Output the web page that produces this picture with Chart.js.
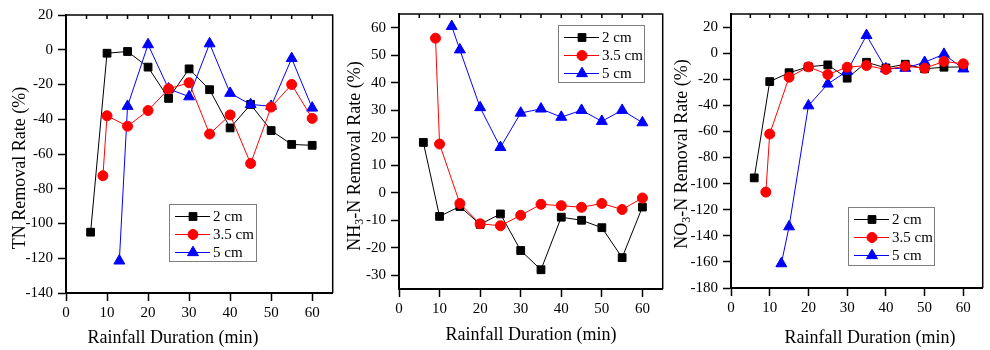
<!DOCTYPE html>
<html>
<head>
<meta charset="utf-8">
<script src="https://cdn.jsdelivr.net/npm/chart.js@4.4.0/dist/chart.umd.min.js"></script>
<style>
  html, body { margin: 0; padding: 0; background: #fff; }
  #wrap { position: relative; width: 990px; height: 350px; overflow: hidden; }
  canvas { position: absolute; top: 0; }
</style>
</head>
<body>
<div id="wrap">
  <canvas id="tn" width="340" height="350" style="left:0"></canvas>
  <canvas id="nh" width="330" height="350" style="left:340px"></canvas>
  <canvas id="no" width="320" height="350" style="left:670px"></canvas>
</div>
<script>
// sampling times (min) for each buffer depth
const depthLabels = ['2 cm', '3.5 cm', '5 cm'];
const time2 = [6, 10, 15, 20, 25, 30, 35, 40, 45, 50, 55, 60];
const time35 = [9, 10, 15, 20, 25, 30, 35, 40, 45, 50, 55, 60];
const time5 = [13, 15, 20, 25, 30, 35, 40, 45, 50, 55, 60];
const xTicks = [0, 10, 20, 30, 40, 50, 60];

// TN removal rate (%)
const tn2 = [-105, -2, -1, -10, -28, -11, -23, -45, -31.5, -46.5, -54.5, -55];
const tn35 = [-72.5, -38, -44, -35, -22.5, -19, -48.5, -37.5, -65.5, -33, -20, -39.5];
const tn5 = [-121.5, -32.5, 3, -22.5, -27, 3.5, -25, -31.5, -32.5, -5, -33.5];
const tnTicks = [-140, -120, -100, -80, -60, -40, -20, 0, 20];

// NH3-N removal rate (%)
const nh2 = [18.3, -8.6, -5, -11.5, -7.7, -21, -28, -8.9, -10, -12.7, -23.6, -5.2];
const nh35 = [56.2, 17.7, -3.9, -11.3, -12, -8.2, -4.2, -4.7, -5.3, -3.9, -6.1, -1.9];
const nh5 = [60.5, 52, 31, 16.5, 29, 30.5, 27.5, 30, 26, 30, 25.5];
const nhTicks = [-30, -20, -10, 0, 10, 20, 30, 40, 50, 60];

// NO3-N removal rate (%)
const no2 = [-95.6, -21.8, -15, -10.5, -9, -19.2, -7, -11.3, -8.5, -12, -10.8, -10.5];
const no35 = [-106.5, -62, -18.5, -10.5, -16.4, -10.8, -9.5, -12.5, -10, -11.5, -6.4, -8.2];
const no5 = [-161.3, -133, -40.3, -23.6, -13.8, 13.6, -12, -11.5, -7, -0.8, -12];
const noTicks = [-180, -160, -140, -120, -100, -80, -60, -40, -20, 0, 20];

Chart.defaults.font.family = '"Liberation Serif", "Times New Roman", serif';
Chart.defaults.color = '#000';

const pairs = (xs, ys) => xs.map((x, i) => ({ x: x, y: ys[i] }));

// box on top/right with small inward ticks along the top
const framePlugin = {
  id: 'frame',
  afterDraw(chart) {
    const { ctx, chartArea: a, scales } = chart;
    const x = scales.x;
    ctx.save();
    ctx.strokeStyle = '#000';
    ctx.lineWidth = 1.5;
    ctx.beginPath();
    ctx.moveTo(a.left, a.top);
    ctx.lineTo(a.right, a.top);
    ctx.lineTo(a.right, a.bottom);
    for (let v = 0; v < x.max; v += 5) {
      const px = x.getPixelForValue(v);
      ctx.moveTo(px, a.top);
      ctx.lineTo(px, a.top + 4);
    }
    ctx.stroke();
    ctx.restore();
  }
};

// framed legend inside the plot, like the Origin one
const boxLegend = {
  id: 'boxLegend',
  afterDraw(chart, args, opts) {
    const { ctx } = chart;
    const b = opts.box;
    ctx.save();
    ctx.fillStyle = '#fff';
    ctx.fillRect(b.x, b.y, b.w, b.h);
    ctx.strokeStyle = '#7f7f7f';
    ctx.lineWidth = 1;
    ctx.strokeRect(b.x + 0.5, b.y + 0.5, b.w, b.h);
    chart.data.datasets.forEach((ds, i) => {
      const y = b.y + 12.5 + i * 18;
      ctx.strokeStyle = ds.borderColor;
      ctx.lineWidth = 1;
      ctx.beginPath();
      ctx.moveTo(b.x + 6, y);
      ctx.lineTo(b.x + 41, y);
      ctx.stroke();
      ctx.fillStyle = ds.pointBackgroundColor;
      ctx.strokeStyle = ds.borderColor;
      Chart.helpers.drawPoint(ctx, {
        pointStyle: ds.pointStyle, radius: ds.pointRadius, rotation: 0, borderWidth: 1
      }, b.x + 24, y);
      ctx.fillStyle = '#000';
      ctx.font = '15px "Liberation Serif"';
      ctx.textAlign = 'left';
      ctx.textBaseline = 'middle';
      ctx.fillText(ds.label, b.x + 44, y + 1);
    });
    ctx.restore();
  }
};

// axis titles, y title may carry a subscript part
const axisTitles = {
  id: 'axisTitles',
  afterDraw(chart, args, opts) {
    const { ctx } = chart;
    ctx.save();
    ctx.fillStyle = '#000';
    ctx.textBaseline = 'middle';
    ctx.font = '18px "Liberation Serif"';
    ctx.textAlign = 'center';
    ctx.fillText(opts.xText, opts.xPos[0], opts.xPos[1]);

    ctx.translate(opts.yPos[0], opts.yPos[1]);
    ctx.rotate(-Math.PI / 2);
    ctx.textAlign = 'left';
    let total = 0;
    opts.yParts.forEach(p => {
      ctx.font = (p.sub ? '12px' : '18px') + ' "Liberation Serif"';
      total += ctx.measureText(p.t).width;
    });
    let cx = -total / 2;
    opts.yParts.forEach(p => {
      ctx.font = (p.sub ? '12px' : '18px') + ' "Liberation Serif"';
      ctx.fillText(p.t, cx, p.sub ? 5 : 0);
      cx += ctx.measureText(p.t).width;
    });
    ctx.restore();
  }
};

function makePanel(id, p) {
  const canvas = document.getElementById(id);
  const H = canvas.height, W = canvas.width;
  const styles = [
    { color: '#000000', pointStyle: 'rect', radius: 5.5, order: 2 },
    { color: '#ff0000', pointStyle: 'circle', radius: 5, order: 0 },
    { color: '#0000ff', pointStyle: 'triangle', radius: 6.3, order: 1 }
  ];
  const series = [pairs(time2, p.v2), pairs(time35, p.v35), pairs(time5, p.v5)];
  new Chart(canvas, {
    type: 'line',
    data: {
      datasets: series.map((d, i) => ({
        label: depthLabels[i],
        data: d,
        borderColor: styles[i].color,
        backgroundColor: styles[i].color,
        pointBackgroundColor: styles[i].color,
        pointBorderColor: styles[i].color,
        pointStyle: styles[i].pointStyle,
        pointRadius: styles[i].radius,
        pointBorderWidth: 1,
        borderWidth: 1,
        tension: 0,
        order: styles[i].order
      }))
    },
    options: {
      responsive: false,
      animation: false,
      devicePixelRatio: 1,
      layout: { padding: { left: 0, top: p.area.t, right: W - p.area.r, bottom: 0 } },
      plugins: {
        legend: { display: false },
        tooltip: { enabled: false },
        boxLegend: { box: p.legend },
        axisTitles: { xText: 'Rainfall Duration (min)', xPos: p.xTitle, yParts: p.yParts, yPos: p.yTitle }
      },
      scales: {
        x: {
          type: 'linear',
          min: 0,
          max: 65,
          afterBuildTicks: axis => { axis.ticks = xTicks.map(v => ({ value: v })); },
          afterFit: axis => { axis.height = H - p.area.b; },
          ticks: { font: { size: 15 }, color: '#000', padding: 3, callback: v => String(v) },
          grid: { drawOnChartArea: false, tickLength: 8, tickWidth: 1.5, tickColor: '#000' },
          border: { color: '#000', width: 2 }
        },
        y: {
          type: 'linear',
          min: p.yMin,
          max: p.yMax,
          afterBuildTicks: axis => { axis.ticks = p.yTicks.map(v => ({ value: v })); },
          afterFit: axis => { axis.width = p.area.l; },
          ticks: { font: { size: 15 }, color: '#000', padding: 5, callback: v => String(v) },
          grid: { drawOnChartArea: false, tickLength: 8, tickWidth: 1.5, tickColor: '#000' },
          border: { color: '#000', width: 2 }
        }
      }
    },
    plugins: [framePlugin, boxLegend, axisTitles]
  });
}

makePanel('tn', {
  v2: tn2, v35: tn35, v5: tn5,
  yMin: -140, yMax: 20, yTicks: tnTicks,
  area: { l: 66, r: 337, t: 15, b: 293 },
  legend: { x: 169, y: 204, w: 87, h: 57 },
  xTitle: [173, 338], yTitle: [20, 168],
  yParts: [{ t: 'TN Removal Rate (%)' }]
});

makePanel('nh', {
  v2: nh2, v35: nh35, v5: nh5,
  yMin: -35, yMax: 65, yTicks: nhTicks,
  area: { l: 59, r: 328, t: 14, b: 289 },
  legend: { x: 218, y: 25, w: 86, h: 57 },
  xTitle: [191, 335], yTitle: [15, 156],
  yParts: [{ t: 'NH' }, { t: '3', sub: true }, { t: '-N Removal Rate (%)' }]
});

makePanel('no', {
  v2: no2, v35: no35, v5: no5,
  yMin: -180, yMax: 30, yTicks: noTicks,
  area: { l: 61, r: 318, t: 14, b: 288 },
  legend: { x: 178, y: 207, w: 86, h: 58 },
  xTitle: [200, 338], yTitle: [12, 154],
  yParts: [{ t: 'NO' }, { t: '3', sub: true }, { t: '-N Removal Rate (%)' }]
});
</script>
</body>
</html>
